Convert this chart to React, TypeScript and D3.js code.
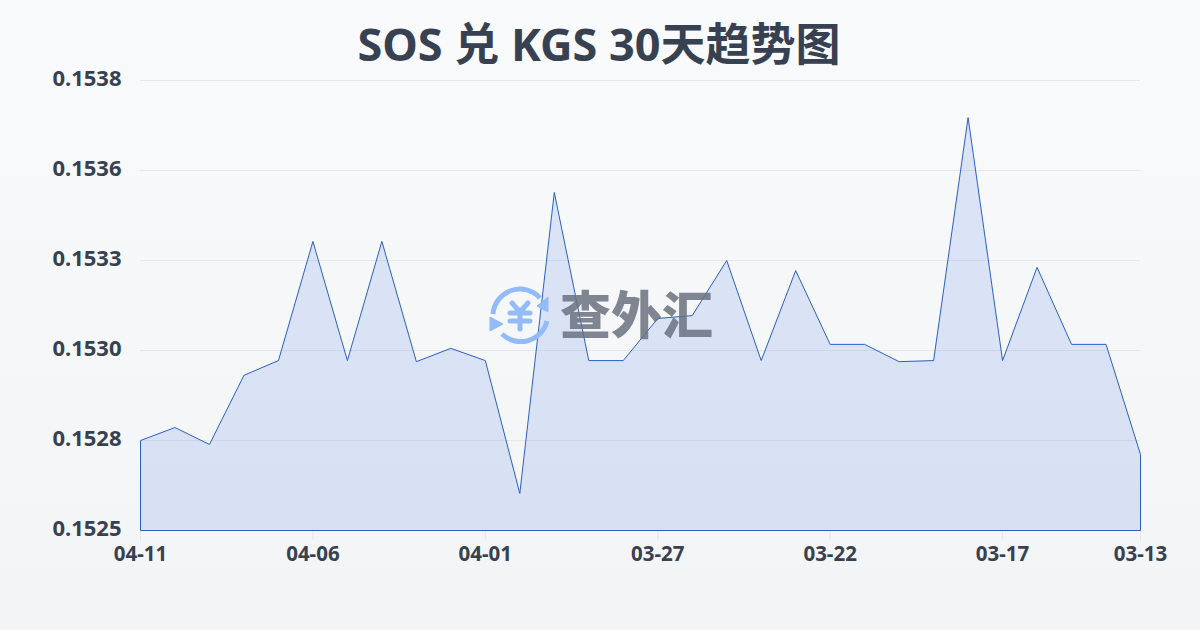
import React from "react";
import * as d3 from "d3";

const dates = ["04-11","04-10","04-09","04-08","04-07","04-06","04-05","04-04","04-03","04-02","04-01","03-31","03-30","03-29","03-28","03-27","03-26","03-25","03-24","03-23","03-22","03-21","03-20","03-19","03-18","03-17","03-16","03-15","03-14","03-13"];
const rates = [0.15275,0.152786,0.152739,0.152931,0.152972,0.153303,0.152972,0.153303,0.152969,0.153006,0.152972,0.152603,0.153439,0.152972,0.152972,0.153089,0.153097,0.15325,0.152972,0.153222,0.153017,0.153017,0.152969,0.152972,0.153647,0.152972,0.153231,0.153017,0.153017,0.152711];
const yTicks = [0.1525,0.15275,0.153,0.15325,0.1535,0.15375];
const yLabels = ["0.1525","0.1528","0.1530","0.1533","0.1536","0.1538"];
const xTickDates = ["04-11","04-06","04-01","03-27","03-22","03-17","03-13"];
const title = "SOS 兑 KGS 30天趋势图";
const FONT = "'Noto Sans','Noto Sans CJK SC',sans-serif";

export default function App() {
  const x = d3.scalePoint<string>().domain(dates).range([140.5, 1140.5]);
  const y = d3.scaleLinear().domain([0.1525, 0.15375]).range([530.5, 80.5]);
  const pts = dates.map((d, i) => ({ d, v: rates[i] }));
  const line = d3.line<{ d: string; v: number }>().x(p => x(p.d)!).y(p => y(p.v));
  const area = d3.area<{ d: string; v: number }>().x(p => x(p.d)!).y0(530.5).y1(p => y(p.v));
  return (
    <svg width={1200} height={630} style={{ position: "fixed", left: 0, top: 0, display: "block" }} fontFamily={FONT}>
      <defs>
        <linearGradient id="bg" x1="0" y1="0" x2="0" y2="1">
          <stop offset="0" stopColor="#f9fafc" />
          <stop offset="1" stopColor="#f3f4f6" />
        </linearGradient>
      </defs>
      <rect width={1200} height={630} fill="url(#bg)" />
      <text x={599} y={61} textAnchor="middle" fontSize={45} fontWeight={700} fill="#374151">{title}</text>
      {yTicks.map((t, i) => (
        <g key={t}>
          <line x1={140} x2={1140} y1={y(t)} y2={y(t)} stroke="#e5e7eb" strokeWidth={1} />
          <text x={121.5} y={y(t) + 5.5} textAnchor="end" fontSize={22} fontWeight={700} fill="#374151">{yLabels[i]}</text>
        </g>
      ))}
      {xTickDates.map(t => (
        <g key={t}>
          <line x1={x(t)} x2={x(t)} y1={530} y2={540} stroke="#e5e7eb" strokeWidth={1} />
          <text x={x(t)} y={561} textAnchor="middle" fontSize={20.5} fontWeight={700} fill="#374151">{t}</text>
        </g>
      ))}
      <path d={area(pts)!} fill="#2f62e0" fillOpacity={0.14} stroke="none" />
      <path d={`M140.5,530.5L${line(pts)!.slice(1)}L1140.5,530.5Z`} fill="none" stroke="#2b5fc7" strokeWidth={1} />
      <g transform="translate(520,315)" fill="none" stroke="#93bbf8" strokeWidth={5}>
        <path d="M-27,-1A27,27 0 0 1 20,-17" />
        <path d="M27,6A27,27 0 0 1 -18,19" />
        <path d="M17,-9L28,-18L28,-3Z" fill="#93bbf8" stroke="#93bbf8" strokeWidth={1} />
        <path d="M-17,9L-30,2L-30,16Z" fill="#93bbf8" stroke="#93bbf8" strokeWidth={1} />
        <path d="M-8,-12L0,-3L8,-12M-10,-2H10M-10,6H10M0,-3V14" strokeLinecap="round" />
      </g>
      <text x={560} y={334} fontSize={51} fontWeight={900} fill="#6b7280" opacity={0.85} fontFamily="'Noto Sans CJK SC',sans-serif">查外汇</text>
    </svg>
  );
}
